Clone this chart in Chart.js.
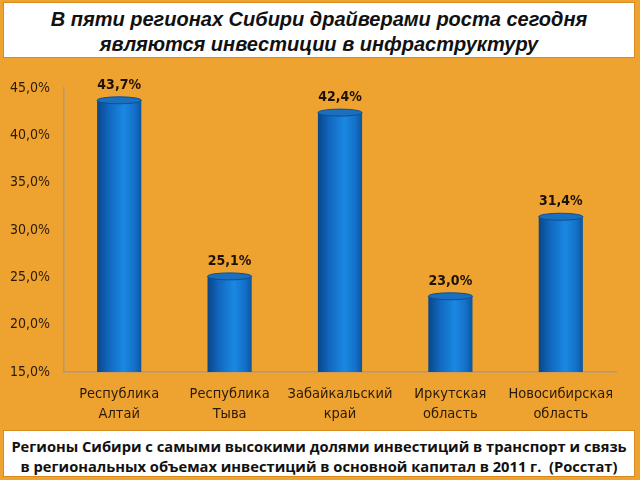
<!DOCTYPE html>
<html>
<head>
<meta charset="utf-8">
<script src="https://cdn.jsdelivr.net/npm/chart.js@4/dist/chart.umd.min.js"></script>
<style>
  html, body { margin: 0; padding: 0; }
  body { width: 640px; height: 480px; background: #eea22f; position: relative; overflow: hidden; }
  #wrap { position: absolute; left: 0; top: 0; width: 640px; height: 480px; }
  .box { position: absolute; left: 3px; width: 632px; background: #fff; border: 1px solid #d98a1c;
         text-align: center; color: #111; }
  #title { top: 2px; height: 56px; font: italic bold 20px "Liberation Sans", Arial, sans-serif; line-height: 25px; padding-top: 4px; box-sizing: border-box; }
  #caption { top: 430px; height: 47px; font: bold 14.7px "Open Sans", sans-serif; line-height: 20px; padding-top: 5px; box-sizing: border-box; }
</style>
</head>
<body>
<div id="wrap"><canvas id="chart" width="640" height="480"></canvas></div>
<div id="title" class="box">В пяти регионах Сибири драйверами роста сегодня<br>являются инвестиции в инфраструктуру</div>
<div id="caption" class="box">Регионы Сибири с самыми высокими долями инвестиций в транспорт и связь<br>в региональных объемах инвестиций в основной капитал в 2011 г.&nbsp; (Росстат)</div>
<script>
// data
const regions = [
  ["Республика", "Алтай"],
  ["Республика", "Тыва"],
  ["Забайкальский", "край"],
  ["Иркутская", "область"],
  ["Новосибирская", "область"],
];
const shares = [43.7, 25.1, 42.4, 23.0, 31.4];
const yTicks = [15, 20, 25, 30, 35, 40, 45];

const fmt = v => v.toFixed(1).replace(".", ",") + "%";
const narrow = '"DejaVu Sans Condensed", "Liberation Sans Narrow", sans-serif';

function barFill(context) {
  const chart = context.chart;
  if (!chart.chartArea) return "#1272c8";
  const xs = chart.scales.x;
  const cx = xs.getPixelForValue(context.dataIndex);
  const hw = (xs.width / regions.length) * 0.4 / 2;
  const g = chart.ctx.createLinearGradient(cx - hw, 0, cx + hw, 0);
  g.addColorStop(0, "#0a4688");
  g.addColorStop(0.25, "#1166bd");
  g.addColorStop(0.6, "#1a88e2");
  g.addColorStop(0.85, "#1470c8");
  g.addColorStop(1, "#0c559f");
  return g;
}

// cylinder caps + value labels
const cylinder = {
  id: "cylinder",
  afterDatasetsDraw(chart) {
    const ctx = chart.ctx;
    const meta = chart.getDatasetMeta(0);
    meta.data.forEach((bar, i) => {
      const rx = bar.width / 2;
      ctx.save();
      ctx.beginPath();
      ctx.ellipse(bar.x, bar.y, rx, 3.5, 0, 0, Math.PI * 2);
      ctx.fillStyle = "#1b6fbf";
      ctx.fill();
      ctx.strokeStyle = "#0d4f92";
      ctx.lineWidth = 1;
      ctx.stroke();
      ctx.restore();

      ctx.save();
      ctx.fillStyle = "#1e1206";
      ctx.font = "bold 14px " + narrow;
      ctx.textAlign = "center";
      ctx.textBaseline = "middle";
      ctx.fillText(fmt(shares[i]), bar.x, bar.y - 15);
      ctx.restore();
    });
  }
};

new Chart(document.getElementById("chart"), {
  type: "bar",
  data: {
    labels: regions,
    datasets: [{
      data: shares,
      backgroundColor: barFill,
      borderWidth: 0,
      barPercentage: 0.4,
      categoryPercentage: 1,
    }],
  },
  options: {
    responsive: false,
    animation: false,
    layout: { padding: { top: 88, right: 24, left: 0, bottom: 0 } },
    plugins: { legend: { display: false }, tooltip: { enabled: false } },
    scales: {
      x: {
        grid: { display: false },
        border: { color: "#a89a88", width: 1.5 },
        ticks: { color: "#2a1a08", font: { family: narrow, size: 14.5, lineHeight: 1.4 }, padding: 4, maxRotation: 0, minRotation: 0, autoSkip: false },
        afterFit(scale) { scale.height = 108; },
      },
      y: {
        min: 15,
        max: 45,
        afterBuildTicks(scale) { scale.ticks = yTicks.map(v => ({ value: v })); },
        grid: { display: false },
        border: { color: "#a89a88", width: 1.5 },
        ticks: { color: "#2a1a08", font: { family: narrow, size: 14 }, padding: 6, callback: v => fmt(v) },
        afterFit(scale) { scale.width = 64; },
      },
    },
  },
  plugins: [cylinder],
});
</script>
</body>
</html>
